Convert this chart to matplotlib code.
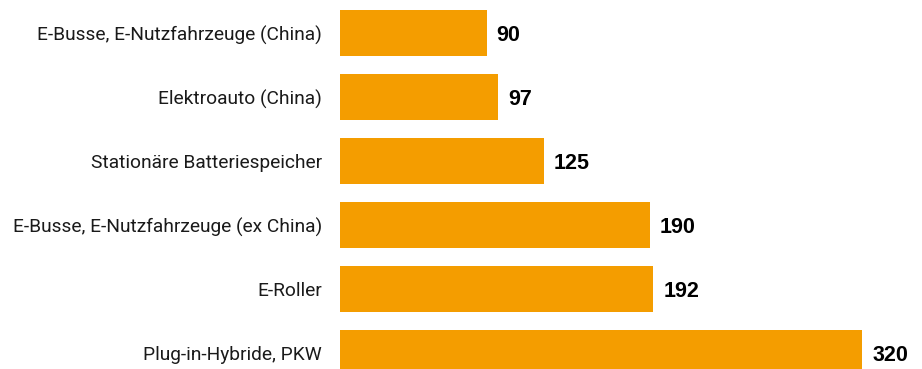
import matplotlib
matplotlib.use("Agg")
import matplotlib.pyplot as plt

categories = ["E-Busse, E-Nutzfahrzeuge (China)", "Elektroauto (China)",
              "Stationäre Batteriespeicher", "E-Busse, E-Nutzfahrzeuge (ex China)",
              "E-Roller", "Plug-in-Hybride, PKW"]
values = [90, 97, 125, 190, 192, 320]

fig = plt.figure(figsize=(9.22, 3.69), dpi=100)
ax = fig.add_axes([340/922, 0, 1 - 340/922, 1])
ypos = list(range(len(categories)))
ax.barh(ypos, values, height=0.72, color="#F49D00")
ax.set_xlim(0, 356.6)
ax.set_ylim(5.25, -0.516)
ax.set_yticks(ypos)
ax.set_yticklabels(categories, fontsize=13.8, family="Roboto", color="#1a1a1a")
ax.tick_params(axis="y", length=0, pad=13)
ax.set_xticks([])
for s in ax.spines.values():
    s.set_visible(False)
for y, v in zip(ypos, values):
    ax.text(v + 6, y + 0.04, str(v), va="center", ha="left", fontsize=15.5,
            fontweight="bold", family="Liberation Sans", color="black")
fig.savefig("out.png", dpi=100)
